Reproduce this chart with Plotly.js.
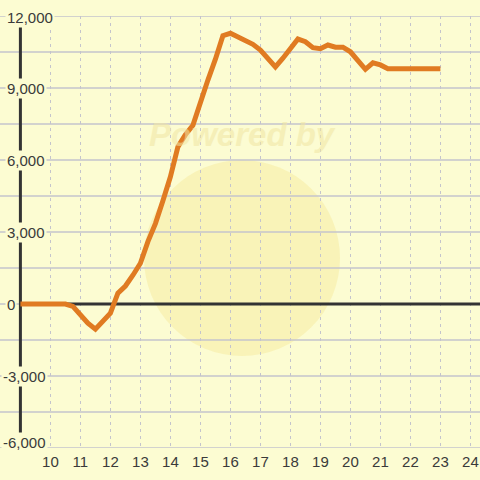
<!DOCTYPE html>
<html>
<head>
<meta charset="utf-8">
<script src="https://cdn.plot.ly/plotly-3.0.1.min.js"></script>
<style>html,body{margin:0;padding:0;background:#fcfcd2;}</style>
</head>
<body>
<div id="chart" style="width:480px;height:480px;"></div>
<script>
const hours = [9, 9.25, 9.5, 9.75, 10, 10.25, 10.5, 10.75, 11, 11.25, 11.5, 11.75,
  12, 12.25, 12.5, 12.75, 13, 13.25, 13.5, 13.75, 14, 14.25, 14.5, 14.75,
  15, 15.25, 15.5, 15.75, 16, 16.25, 16.5, 16.75, 17, 17.25, 17.5, 17.75,
  18, 18.25, 18.5, 18.75, 19, 19.25, 19.5, 19.75, 20, 20.25, 20.5, 20.75,
  21, 21.25, 21.5, 21.75, 22, 22.25, 22.5, 22.75, 23];
const values = [0, 0, 0, 0, 0, 0, 0, -100, -460, -800, -1050, -735,
  -380, 450, 750, 1200, 1700, 2600, 3350, 4300, 5300, 6550, 7050, 7450,
  8450, 9330, 10200, 11180, 11280, 11140, 10970, 10820, 10580, 10240, 9880, 10240,
  10610, 11040, 10930, 10680, 10640, 10790, 10700, 10700, 10510, 10120, 9780, 10050,
  9960, 9800, 9800, 9800, 9800, 9800, 9800, 9800, 9800];
const yTickVals = [-6000, -3000, 0, 3000, 6000, 9000, 12000];
const yTickText = ['-6,000', '-3,000', '0', '3,000', '6,000', '9,000', '12,000'];
const yGridVals = [-6000, -4500, -3000, -1500, 0, 1500, 3000, 4500, 6000, 7500, 9000, 10500, 12000];
const xTickVals = [10, 11, 12, 13, 14, 15, 16, 17, 18, 19, 20, 21, 22, 23, 24];
const xTickText = ['10', '11', '12', '13', '14', '15', '16', '17', '18', '19', '20', '21', '22', '23', '24'];
const watermarkText = 'Powered by';

const bg = '#fcfcd2';
const gridColor = '#c4c4cc';
const xMin = 8.32, xMax = 24.32;
const yMin = -6000, yMax = 12000;
const axisX = 9;

const trace = {
  x: hours, y: values, type: 'scatter', mode: 'lines',
  line: {color: '#e07b22', width: 5},
  hoverinfo: 'skip'
};

const shapes = [
  {type: 'circle', xref: 'paper', yref: 'paper', layer: 'below',
   x0: 144/480, x1: 340/480, y0: (448 - 356)/432, y1: (448 - 160)/432,
   fillcolor: '#f6e590', opacity: 0.4, line: {width: 0}}
];
// horizontal grid lines (every 1500), drawn as shapes so the edge lines show too
yGridVals.forEach(v => shapes.push({
  type: 'line', xref: 'paper', yref: 'y', layer: 'below',
  x0: 0, x1: 1, y0: v, y1: v, line: {color: gridColor, width: 1.3}
}));
shapes.push(
  {type: 'line', xref: 'x', yref: 'y', layer: 'between',
   x0: axisX, x1: xMax, y0: 0, y1: 0, line: {color: '#333333', width: 3}},
  {type: 'line', xref: 'x', yref: 'y', layer: 'between',
   x0: axisX, x1: axisX, y0: yMin, y1: yMax, line: {color: '#333333', width: 3}}
);

const annotations = [
  {text: '<b><i>' + watermarkText + '</i></b>', xref: 'paper', yref: 'paper',
   x: 242/480, y: (448 - 135)/432, xanchor: 'center', yanchor: 'middle', showarrow: false,
   font: {size: 33, color: '#f1e6a4', family: 'Liberation Sans, Arial, sans-serif'},
   opacity: 0.55}
];
yTickVals.forEach((v, i) => annotations.push({
  text: yTickText[i], xref: 'paper', yref: 'y', x: 0, y: v,
  xanchor: 'left', yanchor: 'middle', showarrow: false,
  xshift: v < 0 ? 1 : 5, yshift: v === yMin ? 6 : (v === yMax ? -1 : 0),
  bgcolor: bg, borderpad: 1,
  font: {size: 15, color: '#3a3a3a', family: 'Liberation Sans, Arial, sans-serif'}
}));

const layout = {
  width: 480, height: 480,
  margin: {l: 0, r: 0, t: 16, b: 32, pad: 0},
  paper_bgcolor: bg, plot_bgcolor: bg,
  showlegend: false,
  font: {family: 'Liberation Sans, Arial, sans-serif', size: 15, color: '#3a3a3a'},
  xaxis: {
    range: [xMin, xMax], tickvals: xTickVals, ticktext: xTickText,
    showgrid: true, gridcolor: gridColor, gridwidth: 1, griddash: '3px,4px',
    zeroline: false, showline: false, ticks: '', fixedrange: true,
    ticklabelstandoff: 3,
    tickfont: {size: 15, color: '#3a3a3a'}
  },
  yaxis: {
    range: [yMin, yMax], showticklabels: false,
    showgrid: false, zeroline: false, showline: false, ticks: '', fixedrange: true
  },
  shapes: shapes,
  annotations: annotations
};

Plotly.newPlot('chart', [trace], layout, {staticPlot: true, displayModeBar: false});
</script>
</body>
</html>
